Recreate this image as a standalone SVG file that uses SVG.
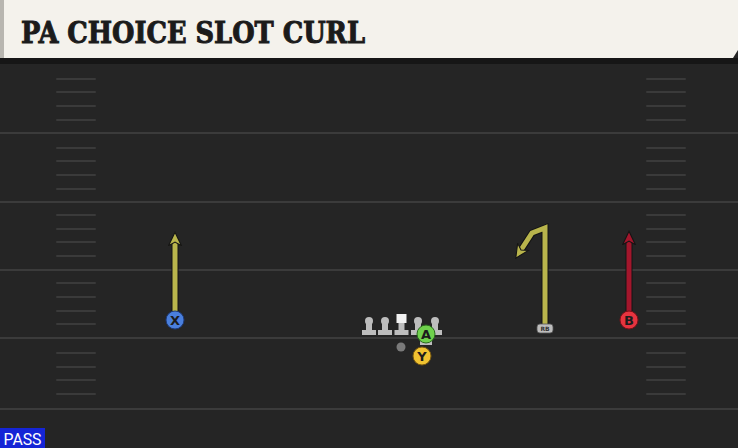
<svg xmlns="http://www.w3.org/2000/svg" width="738" height="448" viewBox="0 0 738 448">
<defs>
<style>
.yard{stroke:#3b3b3b;stroke-width:2}
.hash{stroke:#3a3a3a;stroke-width:2;stroke-linecap:round}
.lbl{font-family:"DejaVu Sans",sans-serif;font-weight:bold;font-size:13px;fill:#1c1c1c;text-anchor:middle}
.ol{fill:#bdbdbd}
</style>
<marker id="ay" viewBox="0 0 14 14" refX="4" refY="7" markerWidth="15" markerHeight="15" markerUnits="userSpaceOnUse" orient="auto">
<path d="M0.5,1 L13,7 L0.5,13 L4,7 z" fill="#b9b54c" stroke="#141414" stroke-width="1"/>
</marker>
<marker id="ar" viewBox="0 0 14 14" refX="4" refY="7" markerWidth="15" markerHeight="15" markerUnits="userSpaceOnUse" orient="auto">
<path d="M0.5,1 L13,7 L0.5,13 L4,7 z" fill="#a3162c" stroke="#141414" stroke-width="1"/>
</marker>
</defs>
<rect width="738" height="448" fill="#252525"/>
<rect y="58" width="738" height="6" fill="#161616"/>
<g id="field">
<line class="yard" x1="0" y1="133" x2="738" y2="133"/>
<line class="yard" x1="0" y1="202" x2="738" y2="202"/>
<line class="yard" x1="0" y1="270" x2="738" y2="270"/>
<line class="yard" x1="0" y1="338" x2="738" y2="338"/>
<line class="yard" x1="0" y1="409" x2="738" y2="409"/>
<g id="hash-left">
<line class="hash" x1="57" y1="79" x2="95" y2="79"/><line class="hash" x1="57" y1="92" x2="95" y2="92"/><line class="hash" x1="57" y1="106" x2="95" y2="106"/><line class="hash" x1="57" y1="120" x2="95" y2="120"/>
<line class="hash" x1="57" y1="148" x2="95" y2="148"/><line class="hash" x1="57" y1="161" x2="95" y2="161"/><line class="hash" x1="57" y1="175" x2="95" y2="175"/><line class="hash" x1="57" y1="189" x2="95" y2="189"/>
<line class="hash" x1="57" y1="215" x2="95" y2="215"/><line class="hash" x1="57" y1="229" x2="95" y2="229"/><line class="hash" x1="57" y1="242" x2="95" y2="242"/><line class="hash" x1="57" y1="256" x2="95" y2="256"/>
<line class="hash" x1="57" y1="283" x2="95" y2="283"/><line class="hash" x1="57" y1="297" x2="95" y2="297"/><line class="hash" x1="57" y1="311" x2="95" y2="311"/><line class="hash" x1="57" y1="324" x2="95" y2="324"/>
<line class="hash" x1="57" y1="353" x2="95" y2="353"/><line class="hash" x1="57" y1="367" x2="95" y2="367"/><line class="hash" x1="57" y1="380" x2="95" y2="380"/><line class="hash" x1="57" y1="394" x2="95" y2="394"/>
</g>
<g id="hash-right">
<line class="hash" x1="647" y1="79" x2="685" y2="79"/><line class="hash" x1="647" y1="92" x2="685" y2="92"/><line class="hash" x1="647" y1="106" x2="685" y2="106"/><line class="hash" x1="647" y1="120" x2="685" y2="120"/>
<line class="hash" x1="647" y1="148" x2="685" y2="148"/><line class="hash" x1="647" y1="161" x2="685" y2="161"/><line class="hash" x1="647" y1="175" x2="685" y2="175"/><line class="hash" x1="647" y1="189" x2="685" y2="189"/>
<line class="hash" x1="647" y1="215" x2="685" y2="215"/><line class="hash" x1="647" y1="229" x2="685" y2="229"/><line class="hash" x1="647" y1="242" x2="685" y2="242"/><line class="hash" x1="647" y1="256" x2="685" y2="256"/>
<line class="hash" x1="647" y1="283" x2="685" y2="283"/><line class="hash" x1="647" y1="297" x2="685" y2="297"/><line class="hash" x1="647" y1="311" x2="685" y2="311"/><line class="hash" x1="647" y1="324" x2="685" y2="324"/>
<line class="hash" x1="647" y1="353" x2="685" y2="353"/><line class="hash" x1="647" y1="367" x2="685" y2="367"/><line class="hash" x1="647" y1="380" x2="685" y2="380"/><line class="hash" x1="647" y1="394" x2="685" y2="394"/>
</g>
</g>
<g id="title">
<path d="M0,0 H738 V50 L733,58 H0 Z" fill="#f4f2ec"/>
<rect x="0" y="0" width="4" height="58" fill="#b8b6b0"/>
<text x="21" y="43" font-family="DejaVu Serif" font-weight="bold" font-size="30" fill="#1b1b1b" stroke="#1b1b1b" stroke-width="1" textLength="344" lengthAdjust="spacingAndGlyphs">PA CHOICE SLOT CURL</text>
</g>
<g id="connectors" fill="none" stroke-linejoin="miter">
<path d="M175,318 V242" stroke="#141414" stroke-width="7"/>
<path d="M175,318 V242" stroke="#b9b54c" stroke-width="5" marker-end="url(#ay)"/>
<path d="M545,325 V228 L532,233 L521,250" stroke="#141414" stroke-width="7"/>
<path d="M545,325 V228 L532,233 L521,250" stroke="#b9b54c" stroke-width="5" marker-end="url(#ay)"/>
<path d="M629,318 V241" stroke="#141414" stroke-width="7"/>
<path d="M629,318 V241" stroke="#a3162c" stroke-width="5" marker-end="url(#ar)"/>
</g>
<g id="line">
<g id="lt"><circle class="ol" cx="369" cy="321" r="4"/><rect class="ol" x="366" y="321" width="6" height="10"/><rect class="ol" x="362" y="330" width="14" height="5"/></g>
<g id="lg"><circle class="ol" cx="385" cy="321" r="4"/><rect class="ol" x="382" y="321" width="6" height="10"/><rect class="ol" x="378" y="330" width="14" height="5"/></g>
<g id="c"><rect x="396.5" y="314" width="10" height="9" fill="#f2f2f2"/><rect class="ol" x="398.5" y="323" width="6" height="8"/><rect class="ol" x="394.5" y="330" width="14" height="5"/></g>
<g id="rg"><circle class="ol" cx="418" cy="321" r="4"/><rect class="ol" x="415" y="321" width="6" height="10"/><rect class="ol" x="411" y="330" width="14" height="5"/></g>
<g id="rt"><circle class="ol" cx="435" cy="321" r="4"/><rect class="ol" x="432" y="321" width="6" height="10"/><rect class="ol" x="428" y="330" width="14" height="5"/></g>
</g>
<g id="qb"><circle cx="401" cy="347" r="4.5" fill="#7a7a7a"/></g>
<g id="te-base"><rect class="ol" x="420" y="340" width="12" height="5"/></g>
<g id="A"><circle cx="426" cy="334" r="9" fill="#6fd14c" stroke="#2a6a1e" stroke-width="1"/><text class="lbl" x="426" y="339">A</text></g>
<g id="Y"><circle cx="422" cy="356" r="9" fill="#f0c231" stroke="#7a5a10" stroke-width="1"/><text class="lbl" x="422" y="361">Y</text></g>
<g id="X"><circle cx="175" cy="320" r="9" fill="#4a7fdc" stroke="#1c3a7a" stroke-width="1"/><text class="lbl" x="175" y="325">X</text></g>
<g id="B"><circle cx="629" cy="320" r="9" fill="#e6343f" stroke="#7a1018" stroke-width="1"/><text class="lbl" x="629" y="325">B</text></g>
<g id="RB"><rect x="537" y="324" width="16" height="9" rx="3" fill="#bdbdbd" stroke="#555" stroke-width="0.8"/><text x="545" y="331" font-family="DejaVu Sans" font-size="6" font-weight="bold" fill="#333" text-anchor="middle">RB</text></g>
<g id="pass"><rect x="0" y="428" width="45" height="20" fill="#1525d6"/><text x="22.5" y="444.5" font-family="Roboto" font-size="16" fill="#ffffff" text-anchor="middle" textLength="38" lengthAdjust="spacingAndGlyphs">PASS</text></g>
</svg>
